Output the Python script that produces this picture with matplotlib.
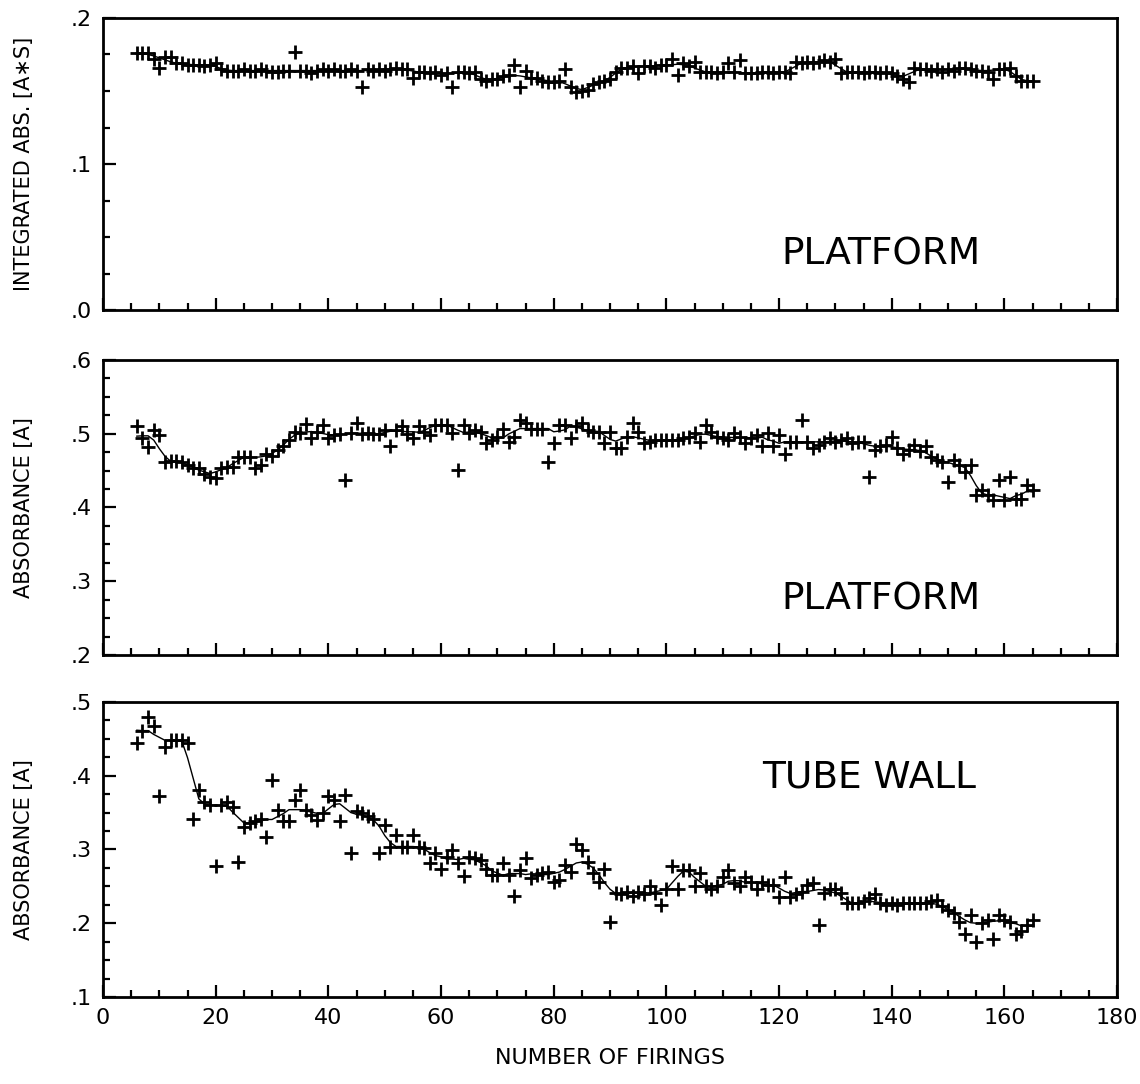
import numpy as np
import matplotlib
matplotlib.use("Agg")
import matplotlib.pyplot as plt
from matplotlib.ticker import MultipleLocator, FuncFormatter

# firing numbers shared by all three panels
firings = np.arange(6, 166)

# integrated absorbance, platform (A*s)
platform_int = [
    .176, .176, .176, .172, .166, .173, .173, .169, .169, .168,
    .168, .168, .167, .168, .169, .165, .164, .164, .164, .165,
    .164, .164, .165, .164, .163, .163, .164, .164, .177, .164,
    .164, .162, .164, .165, .164, .165, .164, .164, .165, .164,
    .153, .165, .164, .165, .164, .165, .166, .165, .165, .159,
    .163, .163, .162, .163, .161, .162, .153, .163, .163, .162,
    .163, .158, .157, .158, .158, .160, .161, .168, .153, .164,
    .159, .159, .157, .156, .156, .157, .165, .153, .149, .150,
    .151, .155, .156, .157, .158, .163, .166, .166, .167, .162,
    .167, .167, .166, .168, .168, .172, .161, .169, .167, .170,
    .163, .163, .163, .162, .163, .169, .163, .171, .162, .162,
    .162, .163, .163, .162, .163, .163, .162, .170, .169, .170,
    .169, .170, .171, .170, .172, .162, .163, .163, .163, .162,
    .163, .163, .162, .163, .162, .160, .158, .156, .166, .165,
    .165, .164, .165, .163, .165, .164, .166, .166, .165, .164,
    .164, .163, .158, .165, .165, .166, .160, .157, .157, .157,
]

# peak absorbance, platform (A)
platform_abs = [
    .510, .494, .482, .505, .498, .462, .463, .463, .462, .458,
    .453, .453, .446, .442, .440, .453, .455, .455, .468, .468,
    .468, .453, .458, .472, .470, .478, .484, .492, .503, .501,
    .513, .494, .503, .512, .494, .498, .500, .437, .501, .514,
    .500, .501, .499, .500, .505, .483, .505, .510, .500, .494,
    .510, .503, .498, .512, .512, .512, .501, .451, .512, .501,
    .505, .503, .487, .491, .496, .507, .489, .496, .519, .514,
    .507, .507, .507, .461, .487, .512, .512, .494, .510, .514,
    .505, .503, .503, .487, .503, .480, .480, .496, .514, .503,
    .487, .489, .491, .491, .491, .492, .491, .494, .496, .501,
    .489, .512, .503, .496, .494, .491, .501, .496, .487, .494,
    .498, .483, .501, .483, .498, .473, .489, .489, .519, .489,
    .480, .485, .489, .494, .489, .491, .494, .487, .489, .489,
    .442, .478, .483, .485, .496, .480, .473, .478, .485, .476,
    .483, .469, .464, .462, .435, .464, .457, .448, .457, .417,
    .424, .417, .410, .437, .410, .441, .412, .412, .430, .424,
]

# peak absorbance, tube wall (A)
tube_abs = [
    .444, .460, .480, .467, .372, .439, .448, .448, .448, .444,
    .342, .381, .365, .360, .277, .360, .365, .358, .283, .331,
    .336, .338, .342, .317, .394, .354, .338, .338, .367, .381,
    .354, .347, .340, .349, .372, .367, .338, .374, .295, .352,
    .349, .345, .342, .295, .333, .304, .320, .304, .304, .320,
    .304, .302, .281, .295, .274, .290, .299, .281, .264, .290,
    .288, .286, .274, .265, .265, .281, .265, .237, .272, .288,
    .261, .265, .268, .270, .256, .259, .279, .270, .308, .299,
    .283, .268, .256, .274, .201, .241, .239, .243, .237, .243,
    .239, .250, .241, .225, .246, .277, .246, .272, .272, .250,
    .268, .250, .246, .250, .263, .272, .254, .250, .263, .256,
    .246, .256, .252, .252, .236, .263, .236, .239, .243, .252,
    .254, .198, .241, .247, .247, .241, .227, .227, .227, .230,
    .234, .239, .227, .225, .227, .225, .227, .227, .227, .227,
    .227, .230, .232, .223, .218, .214, .202, .186, .211, .175,
    .200, .205, .178, .211, .204, .202, .186, .189, .198, .205,
]

panels = [
    (platform_int, "INTEGRATED ABS. [A\u2217S]", (0.0, 0.2), "PLATFORM", (138, .038)),
    (platform_abs, "ABSORBANCE [A]", (0.2, 0.6), "PLATFORM", (138, .275)),
    (tube_abs, "ABSORBANCE [A]", (0.1, 0.5), "TUBE WALL", (136, .397)),
]


def smooth(y):
    # running median of 5, then a 3-point mean, to draw the trend line
    y = np.asarray(y)
    med = np.array([np.median(y[max(0, i - 2):i + 3]) for i in range(len(y))])
    return np.array([med[max(0, i - 1):i + 2].mean() for i in range(len(med))])


def short_fmt(v, pos):
    s = f"{v:.1f}"
    return s[1:] if s.startswith("0") else s


plt.rcParams['font.family'] = ['DejaVu Sans']
fig = plt.figure(figsize=(11.4, 10.84), dpi=100)

boxes = [(0.714, 0.9834), (0.3958, 0.6679), (0.0803, 0.3524)]
left, width = 0.0904, 0.8895

for k, ((vals, ylab, ylim, label, tpos), (b, t)) in enumerate(zip(panels, boxes)):
    ax = fig.add_axes([left, b, width, t - b])
    ax.plot(firings, smooth(vals), color='black', lw=1.0)
    ax.plot(firings, vals, linestyle='none', marker='+', color='black',
            markersize=10, markeredgewidth=2.0)
    ax.set_xlim(0, 180)
    ax.set_ylim(*ylim)
    ax.xaxis.set_major_locator(MultipleLocator(20))
    ax.xaxis.set_minor_locator(MultipleLocator(5))
    ax.yaxis.set_major_locator(MultipleLocator(0.1))
    ax.yaxis.set_minor_locator(MultipleLocator(0.025))
    ax.yaxis.set_major_formatter(FuncFormatter(short_fmt))
    ax.tick_params(which='both', direction='in', top=False, right=False, width=1.6)
    ax.tick_params(which='major', length=9, labelsize=16, pad=8)
    ax.tick_params(which='minor', length=5)
    for sp in ax.spines.values():
        sp.set_linewidth(2.0)
    ax.set_ylabel(ylab, fontsize=15)
    ax.yaxis.set_label_coords(-0.068, 0.5)
    ax.text(tpos[0], tpos[1], label, fontsize=27, ha='center', va='center')
    if k < 2:
        ax.tick_params(axis='x', labelbottom=False)
    else:
        ax.set_xlabel("NUMBER OF FIRINGS", fontsize=16, labelpad=14)

fig.savefig("out.png", dpi=100)
